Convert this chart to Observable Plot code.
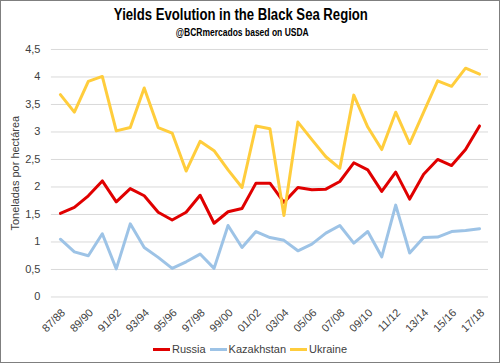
<!DOCTYPE html>
<html><head><meta charset="utf-8">
<script src="https://cdn.jsdelivr.net/npm/d3@7"></script>
<script src="https://cdn.jsdelivr.net/npm/@observablehq/plot@0.6"></script>
<style>
body{margin:0;background:#fff;}
#wrap{position:relative;width:500px;height:363px;box-sizing:border-box;border:1px solid #7f7f7f;background:#fff;overflow:hidden;font-family:"Liberation Sans",Arial,sans-serif;}
#title{position:absolute;left:0;width:480px;top:5px;text-align:center;font-family:"Liberation Sans Narrow","Liberation Sans",sans-serif;font-weight:bold;font-size:16px;color:#000;}
#title span{display:inline-block;transform:scaleX(0.82);transform-origin:center;white-space:nowrap;}
#subtitle{position:absolute;left:0;width:482px;top:26px;text-align:center;font-family:"Liberation Sans Narrow","Liberation Sans",sans-serif;font-weight:bold;font-size:10px;color:#000;}
#subtitle span{display:inline-block;transform:scaleX(0.85);transform-origin:center;white-space:nowrap;}
#chart{position:absolute;left:-1px;top:39px;}
#legend{position:absolute;left:0;width:498px;top:342px;display:flex;justify-content:center;gap:4px;font-size:11px;color:#404040;}
#legend span.it{display:flex;align-items:center;gap:2px;}
#legend span.sw{display:inline-block;width:17px;height:3px;}
</style></head>
<body>
<div id="wrap">
  <div id="title"><span>Yields Evolution in the Black Sea Region</span></div>
  <div id="subtitle"><span>@BCRmercados based on USDA</span></div>
  <div id="chart"></div>
  <div id="legend"></div>
</div>
<script>
const seasons = ["87/88","88/89","89/90","90/91","91/92","92/93","93/94","94/95","95/96","96/97","97/98","98/99","99/00","00/01","01/02","02/03","03/04","04/05","05/06","06/07","07/08","08/09","09/10","10/11","11/12","12/13","13/14","14/15","15/16","16/17","17/18"];
const xTickLabels = ["87/88","89/90","91/92","93/94","95/96","97/98","99/00","01/02","03/04","05/06","07/08","09/10","11/12","13/14","15/16","17/18"];
const yTickValues = [0,0.5,1,1.5,2,2.5,3,3.5,4,4.5];
const russia = [1.52,1.63,1.84,2.11,1.73,1.97,1.84,1.54,1.40,1.54,1.85,1.34,1.55,1.61,2.07,2.07,1.72,1.99,1.95,1.96,2.10,2.44,2.31,1.92,2.27,1.78,2.23,2.50,2.39,2.68,3.11];
const kazakhstan = [1.05,0.82,0.75,1.15,0.51,1.33,0.90,0.72,0.52,0.64,0.78,0.52,1.30,0.90,1.19,1.08,1.03,0.84,0.96,1.16,1.30,0.98,1.19,0.73,1.67,0.80,1.08,1.09,1.19,1.21,1.24];
const ukraine = [3.68,3.36,3.92,4.01,3.02,3.08,3.80,3.08,2.98,2.29,2.83,2.66,2.31,1.99,3.11,3.06,1.48,3.18,2.86,2.55,2.34,3.67,3.09,2.68,3.36,2.79,3.36,3.93,3.83,4.16,4.05];
const countries = ["Russia","Kazakhstan","Ukraine"];
const colors = ["#e00000","#9dc3e6","#ffcd3c"];
const seriesValues = [russia, kazakhstan, ukraine];

const data = [];
countries.forEach((c, k) => seasons.forEach((s, i) => data.push({season: s, value: seriesValues[k][i], country: c})));

const chart = Plot.plot({
  width: 500, height: 300,
  marginLeft: 51, marginRight: 11, marginTop: 9, marginBottom: 43,
  style: {fontFamily: "'Liberation Sans', Arial, sans-serif", fontSize: "11px", color: "#404040", background: "transparent"},
  x: {type: "point", domain: seasons, padding: 0.5},
  y: {domain: [0, 4.5]},
  color: {domain: countries, range: colors},
  marks: [
    Plot.ruleY(yTickValues, {stroke: "#d9d9d9", strokeWidth: 1}),
    Plot.axisY({ticks: yTickValues, tickSize: 0, tickPadding: 11, tickFormat: d => String(d).replace(".", ","),
      label: "Toneladas por hectárea", labelAnchor: "center", labelArrow: "none", labelOffset: 40}),
    Plot.axisX({ticks: xTickLabels, tickSize: 0, tickRotate: -45, tickPadding: 14, dx: 3, label: null}),
    Plot.line(data, {x: "season", y: "value", z: "country", stroke: "country", strokeWidth: 3, strokeLinejoin: "round", strokeLinecap: "round"})
  ]
});
document.getElementById("chart").appendChild(chart);

const legend = document.getElementById("legend");
countries.forEach((c, k) => {
  const it = document.createElement("span"); it.className = "it";
  const sw = document.createElement("span"); sw.className = "sw"; sw.style.background = colors[k];
  const tx = document.createElement("span"); tx.textContent = c;
  it.appendChild(sw); it.appendChild(tx); legend.appendChild(it);
});
</script>
</body></html>
